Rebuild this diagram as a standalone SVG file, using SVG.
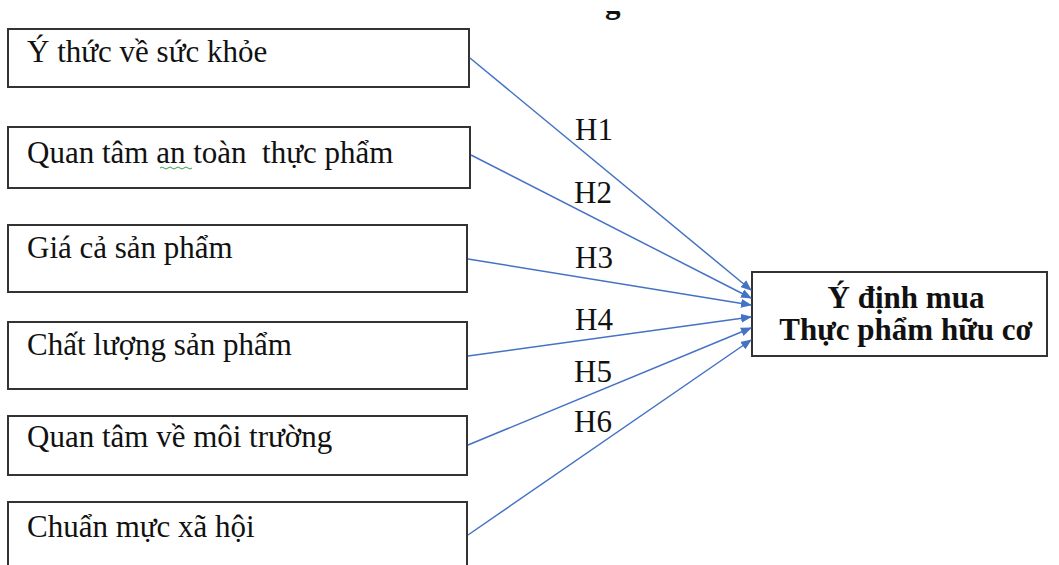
<svg xmlns="http://www.w3.org/2000/svg" width="1059" height="565" viewBox="0 0 1059 565">
  <style>
    .box { fill: #ffffff; stroke: #333333; stroke-width: 2; }
    .lbl { font-family: "Liberation Serif", "Times New Roman", serif; font-size: 31px; fill: #111111; }
    .bold { font-weight: bold; text-anchor: middle; }
    .link { stroke: #4472C4; stroke-width: 1.5; fill: none; marker-end: url(#arrow); }
  </style>
  <defs>
    <marker id="arrow" markerWidth="11" markerHeight="9" refX="10" refY="4.5" orient="auto" markerUnits="userSpaceOnUse">
      <path d="M0,0 L11,4.5 L0,9 Z" fill="#4472C4"/>
    </marker>
    <clipPath id="topcut">
      <rect x="590" y="11" width="40" height="20"/>
    </clipPath>
  </defs>

  <rect width="1059" height="565" fill="#ffffff"/>

  <!-- stray glyph fragment at the top edge -->
  <text class="lbl" x="605" y="13" font-weight="bold" clip-path="url(#topcut)">g</text>

  <g id="n1">
    <rect class="box" x="8" y="29" width="461" height="58"/>
    <text class="lbl" x="27" y="62">Ý thức về sức khỏe</text>
  </g>
  <g id="n2">
    <rect class="box" x="8" y="127" width="462" height="61"/>
    <text class="lbl" x="27" y="163" xml:space="preserve">Quan tâm an toàn  thực phẩm</text>
    <path d="M160,168 q2,-2 4,0 t4,0 t4,0 t4,0 t4,0 t4,0 t4,0 t4,0" stroke="#3aa04a" stroke-width="1" fill="none"/>
  </g>
  <g id="n3">
    <rect class="box" x="8" y="225" width="459" height="67"/>
    <text class="lbl" x="27" y="258">Giá cả sản phẩm</text>
  </g>
  <g id="n4">
    <rect class="box" x="8" y="322" width="459" height="67"/>
    <text class="lbl" x="27" y="355">Chất lượng sản phẩm</text>
  </g>
  <g id="n5">
    <rect class="box" x="8" y="416" width="459" height="59"/>
    <text class="lbl" x="27" y="447">Quan tâm về môi trường</text>
  </g>
  <g id="n6">
    <rect class="box" x="8" y="502" width="459" height="70"/>
    <text class="lbl" x="27" y="537">Chuẩn mực xã hội</text>
  </g>
  <g id="target">
    <rect class="box" x="752" y="272" width="295" height="84"/>
    <text class="lbl bold" x="906" y="308">Ý định mua</text>
    <text class="lbl bold" x="906" y="340">Thực phẩm hữu cơ</text>
  </g>

  <g id="connectors">
    <line class="link" x1="470" y1="58" x2="751" y2="290"/>
    <line class="link" x1="471" y1="155" x2="751" y2="298"/>
    <line class="link" x1="468" y1="259" x2="751" y2="305"/>
    <line class="link" x1="468" y1="356" x2="751" y2="317"/>
    <line class="link" x1="468" y1="445" x2="751" y2="328"/>
    <line class="link" x1="468" y1="535" x2="751" y2="340"/>
    <text class="lbl" x="575" y="140">H1</text>
    <text class="lbl" x="574" y="203">H2</text>
    <text class="lbl" x="575" y="268">H3</text>
    <text class="lbl" x="575" y="330">H4</text>
    <text class="lbl" x="574" y="382">H5</text>
    <text class="lbl" x="574" y="432">H6</text>
  </g>
</svg>
